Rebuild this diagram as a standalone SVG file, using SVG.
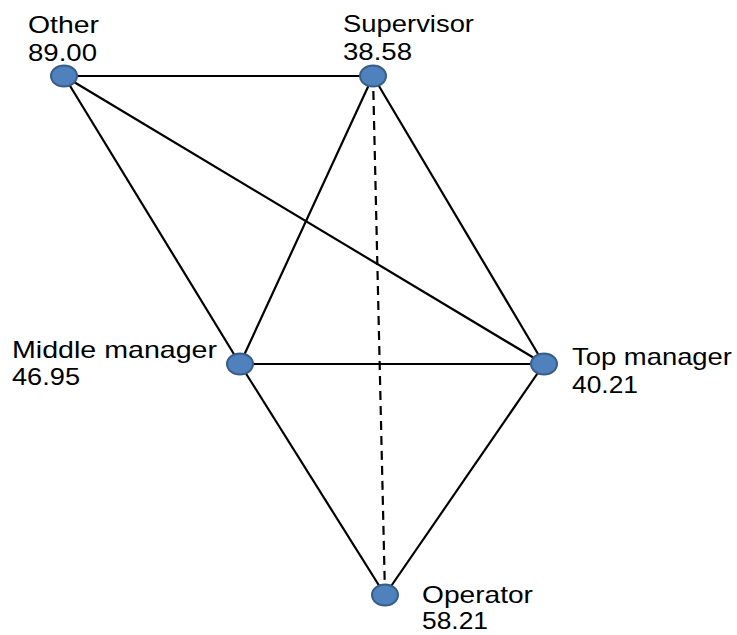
<svg xmlns="http://www.w3.org/2000/svg" width="737" height="635" viewBox="0 0 737 635">
  <style>
    .edge { stroke: #000; stroke-width: 2.2; fill: none; }
    .dash { stroke-dasharray: 9 6; }
    .dot { fill: #4f81bd; stroke: #385d8a; stroke-width: 2; }
    .lbl { font-family: "Liberation Sans", Arial, sans-serif; font-size: 24px; fill: #000; }
  </style>
  <rect width="737" height="635" fill="#fff"/>
  <g id="connectors">
    <line class="edge" x1="64" y1="76" x2="373" y2="76"/>
    <line class="edge" x1="64" y1="76" x2="240" y2="364"/>
    <line class="edge" x1="64" y1="76" x2="544" y2="364"/>
    <line class="edge" x1="373" y1="76" x2="240" y2="364"/>
    <line class="edge" x1="373" y1="76" x2="544" y2="364"/>
    <line class="edge dash" x1="373" y1="76" x2="385" y2="595"/>
    <line class="edge" x1="240" y1="364" x2="544" y2="364"/>
    <line class="edge" x1="240" y1="364" x2="385" y2="595"/>
    <line class="edge" x1="544" y1="364" x2="385" y2="595"/>
  </g>
  <g id="other">
    <ellipse class="dot" cx="64" cy="76" rx="13" ry="10.5"/>
    <text class="lbl" x="28" y="33" textLength="71" lengthAdjust="spacingAndGlyphs">Other</text>
    <text class="lbl" x="28" y="61" textLength="69" lengthAdjust="spacingAndGlyphs">89.00</text>
  </g>
  <g id="supervisor">
    <ellipse class="dot" cx="373" cy="76" rx="13" ry="10.5"/>
    <text class="lbl" x="343" y="32" textLength="131" lengthAdjust="spacingAndGlyphs">Supervisor</text>
    <text class="lbl" x="343" y="60" textLength="69" lengthAdjust="spacingAndGlyphs">38.58</text>
  </g>
  <g id="middle-manager">
    <ellipse class="dot" cx="240" cy="364" rx="13" ry="10.5"/>
    <text class="lbl" x="12" y="358" textLength="205" lengthAdjust="spacingAndGlyphs">Middle manager</text>
    <text class="lbl" x="12" y="385" textLength="68" lengthAdjust="spacingAndGlyphs">46.95</text>
  </g>
  <g id="top-manager">
    <ellipse class="dot" cx="544" cy="364" rx="13" ry="10.5"/>
    <text class="lbl" x="572" y="365" textLength="160" lengthAdjust="spacingAndGlyphs">Top manager</text>
    <text class="lbl" x="572" y="393" textLength="66" lengthAdjust="spacingAndGlyphs">40.21</text>
  </g>
  <g id="operator">
    <ellipse class="dot" cx="385" cy="595" rx="13" ry="10.5"/>
    <text class="lbl" x="422" y="603" textLength="111" lengthAdjust="spacingAndGlyphs">Operator</text>
    <text class="lbl" x="422" y="629" textLength="66" lengthAdjust="spacingAndGlyphs">58.21</text>
  </g>
</svg>
